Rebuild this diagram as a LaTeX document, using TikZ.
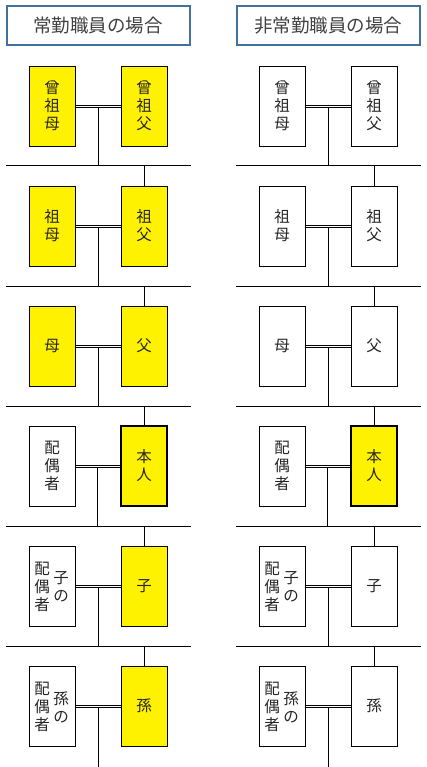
\documentclass[tikz,border=0pt]{standalone}
\usepackage{fontspec}
\newfontfamily\jp{Noto Sans CJK JP}
\definecolor{titleblue}{HTML}{41719C}
\tikzset{
  person/.style={draw=black, line width=0.8pt, minimum width=46pt, minimum height=80pt,
    inner sep=0pt, font=\jp\fontsize{15.5}{18}\selectfont, text=black!85, align=center},
  coltext/.style={inner sep=0pt, font=\jp\fontsize{15.5}{18}\selectfont, text=black!85, align=center},
  selfbox/.style={person, fill=yellow, line width=2.8pt},
  marry/.style={draw=black, line width=0.8pt},
  lineage/.style={draw=black, line width=1pt},
  titlebox/.style={draw=titleblue, line width=2pt, minimum width=183pt, minimum height=39pt,
    inner sep=0pt, font=\jp\fontsize{18.5}{20}\selectfont, text=black!75}
}
\begin{document}
\begin{tikzpicture}[x=1pt,y=-1pt]
\useasboundingbox (0,0) rectangle (427,767);
\foreach \p/\dx/\anc/\ttl in {L/0/yellow/常勤職員の場合, R/230/white/非常勤職員の場合}{
  \begin{scope}[xshift=\dx pt]
    \node[titlebox] (\p title) at (98,25.5) {\ttl};
    % generation nodes
    \node[person, fill=\anc] (\p a1) at (52,106) {曾\\祖\\母};
    \node[person, fill=\anc] (\p b1) at (144,106) {曾\\祖\\父};
    \node[person, fill=\anc] (\p a2) at (52,226) {祖\\母};
    \node[person, fill=\anc] (\p b2) at (144,226) {祖\\父};
    \node[person, fill=\anc] (\p a3) at (52,346) {母};
    \node[person, fill=\anc] (\p b3) at (144,346) {父};
    \node[person, fill=white] (\p a4) at (52,466) {配\\偶\\者};
    \node[selfbox] (\p b4) at (144,466) {本\\人};
    \node[person, fill=white] (\p a5) at (52,586) {};
    \node[coltext] (\p a5l) at ([xshift=-10pt,yshift=-1pt]\p a5.center) {配\\偶\\者};
    \node[coltext] (\p a5r) at ([xshift=9pt,yshift=-1pt]\p a5.center) {子\\の};
    \node[person, fill=\anc] (\p b5) at (144,586) {子};
    \node[person, fill=white] (\p a6) at (52,706) {};
    \node[coltext] (\p a6l) at ([xshift=-10pt,yshift=-1pt]\p a6.center) {配\\偶\\者};
    \node[coltext] (\p a6r) at ([xshift=9pt,yshift=-1pt]\p a6.center) {孫\\の};
    \node[person, fill=\anc] (\p b6) at (144,706) {孫};
    % generation rules
    \foreach \k/\yy in {1/166,2/286,3/406,4/526,5/646}{
      \coordinate (\p hl\k) at (6,\yy);
      \coordinate (\p hr\k) at (191,\yy);
      \draw[lineage] (\p hl\k) -- (\p hr\k);
    }
    \coordinate (\p bottom) at (98,767);
    % marriages (double rule)
    \foreach \k in {1,...,6}{
      \draw[marry] ([yshift=1pt]\p a\k.east) -- ([yshift=1pt]\p b\k.west);
      \draw[marry] ([yshift=-1pt]\p a\k.east) -- ([yshift=-1pt]\p b\k.west);
      \path (\p a\k.east) -- coordinate (\p c\k) (\p b\k.west);
    }
    % descent lines
    \foreach \k/\n in {1/2,2/3,3/4,4/5,5/6}{
      \draw[lineage] ([yshift=-1pt]\p c\k) -- (\p c\k |- \p hl\k);
      \draw[lineage] (\p b\n.north) -- (\p b\n.north |- \p hl\k);
    }
    \draw[lineage] ([yshift=-1pt]\p c6) -- (\p c6 |- \p bottom);
  \end{scope}
}
\end{tikzpicture}
\end{document}
